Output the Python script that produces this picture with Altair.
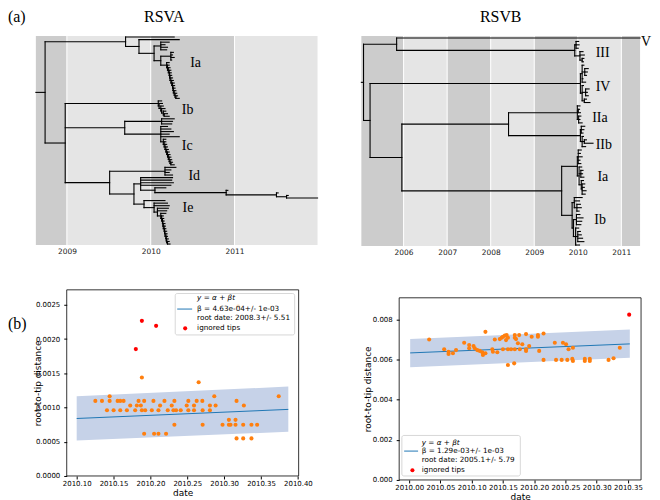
import altair as alt
import pandas as pd

# ------------------------------------------------------------------
# Phylogenetic trees: internal node = [date, child, child, ...]; tip = date
# ------------------------------------------------------------------
def chain(nodes, tips):
    sub = [nodes[-1], tips[-2], tips[-1]]
    for n, t in zip(reversed(nodes[:-1]), reversed(tips[:-2])):
        sub = [n, t, sub]
    return sub

# ---- RSVA ----
IA_LAD_NODES = [2010.20, 2010.21, 2010.22, 2010.225, 2010.23, 2010.24, 2010.25, 2010.26, 2010.265, 2010.27, 2010.28, 2010.29, 2010.30]
IA_LAD_TIPS = [2010.22, 2010.23, 2010.24, 2010.245, 2010.25, 2010.26, 2010.27, 2010.28, 2010.285, 2010.29, 2010.30, 2010.31, 2010.32, 2010.34]
A_IA = [2009.70, 2010.28,
        [2009.86, 2010.34,
         [2010.04,
          [2010.12, 2010.22, 2010.17, 2010.20, 2010.19],
          [2010.12,
           [2010.24, 2010.27, 2010.26, 2010.28, 2010.25],
           [2010.19, 2010.22, chain(IA_LAD_NODES, IA_LAD_TIPS)]]]]]
A_IB = [2010.09, 2010.13, chain([2010.10, 2010.12, 2010.13, 2010.15, 2010.16],
                                [2010.14, 2010.15, 2010.17, 2010.18, 2010.20, 2010.22])]
IC_LAD_NODES = [2010.16, 2010.17, 2010.18, 2010.19, 2010.20, 2010.21, 2010.22, 2010.23, 2010.24]
IC_LAD_TIPS = [2010.18, 2010.19, 2010.20, 2010.21, 2010.22, 2010.23, 2010.24, 2010.25, 2010.26, 2010.28]
A_IC = [2009.69,
        [2010.13, 2010.28, 2010.26, 2010.25],
        [2010.12, 2010.20, 2010.24, 2010.27, 2010.22, 2010.34,
         [2010.15, 2010.18, chain(IC_LAD_NODES, IC_LAD_TIPS)]]]
A_ID = [2010.17, 2010.30, 2010.24, 2010.22, 2010.26]
A_LONG = [2010.90, 2010.92, [2011.50, 2011.52, [2011.62, 2011.64, 2011.99]]]
A_MID = [2009.88, 2010.26, 2010.25, 2010.27, 2010.24, [2010.05, 2010.18, A_LONG]]
IE_LAD_NODES = [2010.13, 2010.14, 2010.145, 2010.15, 2010.16, 2010.165, 2010.17, 2010.18, 2010.185, 2010.19, 2010.20]
IE_LAD_TIPS = [2010.15, 2010.155, 2010.16, 2010.17, 2010.175, 2010.18, 2010.19, 2010.195, 2010.20, 2010.21, 2010.22, 2010.23]
A_IE = [2009.92, 2010.17,
        [2010.04, 2010.20, 2010.22,
         [2010.08, 2010.21, 2010.19,
          [2010.12, 2010.18, chain(IE_LAD_NODES, IE_LAD_TIPS)]]]]
TREE_A = [2008.74, A_IA, [2008.98, A_IB, A_IC, [2009.51, A_ID, [2009.80, A_MID, A_IE]]]]
A_ROOT_START, A_VIEW_START, A_END = 2008.63, 2008.5825, 2011.99
A_YEARS = [2009, 2010, 2011]
A_BAND_START = [2008.63, 2009, 2010, 2011]
A_BAND_END = [2009, 2010, 2011, 2011.99]
A_BAND_SHADE = ["dark", "light", "dark", "light"]
A_CLADES = ["Ia", "Ib", "Ic", "Id", "Ie"]
A_CLADE_X = [2010.47, 2010.37, 2010.37, 2010.45, 2010.38]
A_CLADE_Y = [10.2, 28.5, 42.7, 54.4, 67.1]

# ---- RSVB ----
B_III = [2009.93, [2009.96, 2010.02, 2010.03, 2010.01],
         [2010.05, 2010.12, 2010.15, [2010.10, 2010.14, 2010.13]]]
B_IV = [2010.06,
        [2010.10, 2010.14, [2010.16, 2010.24, 2010.22, 2010.20], 2010.12, 2010.18],
        [2010.10, 2010.13, [2010.18, 2010.26, 2010.22, 2010.24], [2010.15, 2010.20, 2010.28]]]
B_IIA = [2009.99, 2010.05, [2010.01, 2010.04, 2010.06], [2010.02, 2010.07, 2010.05, 2010.10]]
B_IIB = [2010.06, [2010.08, 2010.16, 2010.14, 2010.12],
         [2010.10, 2010.13, [2010.15, 2010.20, 2010.35], 2010.18]]
B_IA = [2009.99, [2010.01, 2010.08, 2010.06, 2010.10, 2010.05, 2010.07],
        [2010.03, 2010.09, [2010.07, 2010.12, 2010.11, 2010.14],
         [2010.08, 2010.13, [2010.10, 2010.16, 2010.15, 2010.19, 2010.17]]]]
B_IB = [2009.87, [2009.92, 2010.10, 2010.04, [2009.98, 2010.06, 2010.08, 2010.03]],
        [2009.90, [2009.97, 2010.05, 2010.12, 2010.09, 2010.07],
         [2009.95, 2010.02, [2010.00, 2010.06, 2010.08, 2010.11, 2010.14], 2010.04]]]
TREE_B = [2005.08, [2005.84, 2011.43, B_III],
          [2005.23, B_IV, [2005.96, [2008.41, B_IIA, B_IIB], [2009.63, B_IA, B_IB]]]]
B_ROOT_START, B_VIEW_START, B_END = 2005.03, 2005.03, 2011.43
B_YEARS = [2006, 2007, 2008, 2009, 2010, 2011]
B_BAND_START = [2005.03, 2006, 2007, 2008, 2009, 2010, 2011]
B_BAND_END = [2006, 2007, 2008, 2009, 2010, 2011, 2011.43]
B_BAND_SHADE = ["dark", "light", "dark", "light", "dark", "light", "dark"]
B_CLADES = ["V", "III", "IV", "IIa", "IIb", "Ia", "Ib"]
B_CLADE_X = [2011.453, 2010.41, 2010.41, 2010.33, 2010.41, 2010.45, 2010.38]
B_CLADE_Y = [1.1, 4.5, 14.4, 23.5, 31.4, 41.0, 53.7]

# ------------------------------------------------------------------
# Root-to-tip regressions
# ------------------------------------------------------------------
RA_T = [2010.1447, 2010.2866, 2010.3740,
        2010.1253, 2010.1343, 2010.1447, 2010.1555, 2010.1591, 2010.1636, 2010.1839, 2010.1915,
        2010.2041, 2010.2190, 2010.2325, 2010.2514, 2010.2627, 2010.2704, 2010.3168,
        2010.1726, 2010.1816, 2010.1870, 2010.2131, 2010.2289, 2010.2492, 2010.2591, 2010.2807,
        2010.2884, 2010.3267,
        2010.1411, 2010.1501, 2010.1591, 2010.1681, 2010.1793, 2010.1884, 2010.1929, 2010.2019,
        2010.2109, 2010.2235, 2010.2312, 2010.2348, 2010.2411, 2010.2514, 2010.2591, 2010.2708, 2010.2807,
        2010.3064, 2010.3154,
        2010.2325, 2010.2708, 2010.2978, 2010.3064, 2010.3086, 2010.3154, 2010.3258, 2010.3370, 2010.3447,
        2010.1915, 2010.2050, 2010.2109, 2010.2212,
        2010.3168, 2010.3258, 2010.3370,
        2010.1884, 2010.2654, 2010.3190]
RA_D = [0.001165] * 3 + [0.001097] * 15 + [0.00103] * 10 + [0.000961] * 17 + [0.00082] * 2 \
       + [0.000748] * 9 + [0.000616] * 4 + [0.000549] * 3 + [0.00144, 0.00137, 0.00248]
RA_IGN_T = [2010.1884, 2010.2077, 2010.1802]
RA_IGN_D = [0.002267, 0.002194, 0.001854]
RA_FIT_T = [2010.10, 2010.387]
RA_FIT = [0.00084, 0.000973]
RA_LO = [0.00052, 0.000646]
RA_HI = [0.001165, 0.001306]
RA_LEGEND = ["y = α + βt", "β = 4.63e-04+/- 1e-03", "root date: 2008.3+/- 5.51", "ignored tips"]

RB_T = [2010.032, 2010.056, 2010.063, 2010.063, 2010.070, 2010.075, 2010.088, 2010.096, 2010.096, 2010.103,
        2010.105, 2010.109, 2010.113, 2010.117, 2010.118, 2010.122, 2010.122, 2010.133, 2010.134, 2010.137,
        2010.141, 2010.145, 2010.148, 2010.150, 2010.150, 2010.153, 2010.155, 2010.156, 2010.158, 2010.158,
        2010.158, 2010.163, 2010.169, 2010.169, 2010.169, 2010.168, 2010.171, 2010.174, 2010.176, 2010.177,
        2010.181, 2010.187, 2010.187, 2010.187, 2010.192, 2010.196, 2010.206, 2010.206, 2010.208, 2010.215,
        2010.215, 2010.233, 2010.235, 2010.244, 2010.246, 2010.251, 2010.253, 2010.255, 2010.261, 2010.262,
        2010.262, 2010.281, 2010.281, 2010.289, 2010.289, 2010.319, 2010.327, 2010.337]
RB_D = [0.00701, 0.00652, 0.00640, 0.00629, 0.00632, 0.00648, 0.00685, 0.00673, 0.00657, 0.00668,
        0.00657, 0.00648, 0.00644, 0.00637, 0.00624, 0.00632, 0.00739, 0.00652, 0.00640, 0.00701,
        0.00637, 0.00703, 0.00710, 0.00715, 0.00652, 0.00720, 0.00698, 0.00723, 0.00710, 0.00652,
        0.00574, 0.00652, 0.00723, 0.00710, 0.00652, 0.00582, 0.00703, 0.00682, 0.00723, 0.00652,
        0.00677, 0.00728, 0.00652, 0.00644, 0.00668, 0.00715, 0.00723, 0.00715, 0.00644, 0.00731,
        0.00599, 0.00685, 0.00599, 0.00599, 0.00685, 0.00677, 0.00599, 0.00652, 0.00604, 0.00594,
        0.00660, 0.00604, 0.00594, 0.00604, 0.00594, 0.00599, 0.00607, 0.00660]
RB_IGN_T = [2010.352]
RB_IGN_D = [0.00825]
RB_FIT_T = [2010.0016, 2010.353]
RB_FIT = [0.00634, 0.00679]
RB_LO = [0.00562, 0.00610]
RB_HI = [0.00703, 0.00751]
RB_LEGEND = ["y = α + βt", "β = 1.29e-03+/- 1e-03", "root date: 2005.1+/- 5.79", "ignored tips"]

# ------------------------------------------------------------------
SERIF = "Liberation Serif"
SANS = "DejaVu Sans"
DARK, LIGHT = "#cccccc", "#e5e5e5"
BAND = "#c6d2e8"
ONE = pd.DataFrame({"k": [0]})


def tree_segments(tree, start):
    rows, count = [], [0]

    def walk(node, pdate):
        if not isinstance(node, list):
            y = count[0]
            count[0] += 1
            rows.append((pdate, node, y, y))
            return y
        ys = [walk(c, node[0]) for c in node[1:]]
        y = (ys[0] + ys[-1]) / 2
        rows.append((node[0], node[0], ys[0], ys[-1]))
        rows.append((pdate, node[0], y, y))
        return y

    walk(tree, start)
    return pd.DataFrame(rows, columns=["x", "x2", "y", "y2"]), count[0]


def text_at(txt, x, y, size, font, align="left", baseline="top", style="normal", opacity=1):
    return alt.Chart(ONE).mark_text(align=align, baseline=baseline, font=font, fontSize=size,
                                    color="black", fontStyle=style, opacity=opacity).encode(
        x=alt.value(x), y=alt.value(y), text=alt.value(txt))


def tree_panel(tree, root_start, view_start, end, years, bs, be, shade, clades, cx, cy,
               title, title_x, w, h, ypad, tag=None):
    segs, n = tree_segments(tree, root_start)
    xs = alt.Scale(domain=[view_start, end], nice=False, zero=False)
    ys = alt.Scale(domain=[-ypad[0], n - 1 + ypad[1]], reverse=True, nice=False, zero=False)
    xax = alt.Axis(values=years, format="d", ticks=False, domain=False, grid=False, title=None,
                   labelFont=SANS, labelFontSize=7.5, labelPadding=2, labelColor="#222",
                   labelFlush=False, labelOverlap=False)
    bands = alt.Chart(pd.DataFrame({"x0": bs, "x1": be, "shade": shade})).mark_rect().encode(
        x=alt.X("x0:Q", scale=xs, axis=xax), x2="x1:Q",
        color=alt.Color("shade:N", scale=alt.Scale(domain=["dark", "light"], range=[DARK, LIGHT]),
                        legend=None))
    grid = alt.Chart(pd.DataFrame({"yr": years})).mark_rule(color="white", strokeWidth=1).encode(
        x=alt.X("yr:Q", scale=xs, axis=xax))
    branches = alt.Chart(segs).mark_rule(color="black", strokeWidth=1.1, strokeCap="square").encode(
        x=alt.X("x:Q", scale=xs, axis=xax), x2="x2:Q",
        y=alt.Y("y:Q", scale=ys, axis=None), y2="y2:Q")
    labels = alt.Chart(pd.DataFrame({"c": clades, "cx": cx, "cy": cy})).mark_text(
        align="left", baseline="middle", font=SERIF, fontSize=14, color="black").encode(
        x=alt.X("cx:Q", scale=xs, axis=xax), y=alt.Y("cy:Q", scale=ys, axis=None), text="c:N")
    layers = [bands, grid, branches, labels,
              text_at(title, title_x, -27, 16, SERIF, align="center")]
    if tag:
        layers.append(text_at(tag[0], tag[1], tag[2], 16, SERIF))
    return alt.layer(*layers).properties(width=w, height=h)


def scatter_panel(tt, td, it, idd, ft, fy, lo, hi, xdom, ydom, xticks, yticks, yfmt, w, h, top,
                  ytitle_x, lines, box, text_x, text_y, sym_x, dot_x):
    H = h + top
    xs = alt.Scale(domain=xdom, nice=False, zero=False)
    ys = alt.Scale(domain=[ydom[0], ydom[0] + (ydom[1] - ydom[0]) * H / h], nice=False, zero=False)
    common = dict(labelFont=SANS, labelFontSize=7, labelColor="black", tickColor="black",
                  tickSize=3, domain=False, grid=False, titleFont=SANS,
                  titleFontSize=9, titleFontWeight="normal", titleColor="black",
                  labelOverlap=False, labelFlush=False)
    xax = alt.Axis(values=xticks, format=".2f", title="date", titlePadding=2, labelPadding=1,
                   **common)
    yax = alt.Axis(values=yticks, format=yfmt, title="root-to-tip distance", labelPadding=4,
                   titleX=ytitle_x, titleY=top + h / 2, titleAngle=270, titleAlign="center",
                   titleBaseline="middle", **common)
    X = alt.X("t:Q", scale=xs, axis=xax)
    fit = pd.DataFrame({"t": ft, "d": fy, "lo": lo, "hi": hi})
    band = alt.Chart(fit).mark_area(color=BAND, opacity=1).encode(
        x=X, y=alt.Y("lo:Q", scale=ys, axis=yax), y2="hi:Q")
    line = alt.Chart(fit).mark_line(color="#1f77b4", strokeWidth=1).encode(
        x=X, y=alt.Y("d:Q", scale=ys, axis=yax))
    pts = alt.Chart(pd.DataFrame({"t": tt, "d": td})).mark_circle(
        size=17, color="#ff7f0e", opacity=1).encode(x=X, y=alt.Y("d:Q", scale=ys, axis=yax))
    ign = alt.Chart(pd.DataFrame({"t": it, "d": idd})).mark_circle(
        size=17, color="#ff0000", opacity=1).encode(x=X, y=alt.Y("d:Q", scale=ys, axis=yax))
    frame = alt.Chart(ONE).mark_rect(fillOpacity=0, stroke="black", strokeWidth=0.8).encode(
        x=alt.value(0), x2=alt.value(w), y=alt.value(top), y2=alt.value(H))
    layers = [band, line, pts, ign, frame]
    layers.append(alt.Chart(ONE).mark_rect(fill="white", fillOpacity=0.8, stroke="#cccccc",
                                           strokeWidth=0.8, cornerRadius=2).encode(
        x=alt.value(box[0]), x2=alt.value(box[1]), y=alt.value(box[2] + top),
        y2=alt.value(box[3] + top)))
    for i, (txt, ty) in enumerate(zip(lines, text_y)):
        layers.append(text_at(txt, text_x, ty + top, 7.3, SANS, baseline="middle",
                              style="italic" if i == 0 else "normal"))
    layers.append(alt.Chart(ONE).mark_rule(color="#1f77b4", strokeWidth=1).encode(
        x=alt.value(sym_x[0]), x2=alt.value(sym_x[1]), y=alt.value(text_y[1] + top)))
    layers.append(alt.Chart(ONE).mark_circle(size=17, color="#ff0000", opacity=1).encode(
        x=alt.value(dot_x), y=alt.value(text_y[3] + top)))
    return alt.layer(*layers).properties(width=w, height=H)


tree_a = tree_panel(TREE_A, A_ROOT_START, A_VIEW_START, A_END, A_YEARS, A_BAND_START, A_BAND_END,
                    A_BAND_SHADE, A_CLADES, A_CLADE_X, A_CLADE_Y, "RSVA", 133, 287, 210, (0.4, 0.4),
                    tag=("(a)", -24, -27))
tree_b = tree_panel(TREE_B, B_ROOT_START, B_VIEW_START, B_END, B_YEARS, B_BAND_START, B_BAND_END,
                    B_BAND_SHADE, B_CLADES, B_CLADE_X, B_CLADE_Y, "RSVB", 140, 280, 211, (0.6, 0.3))

tag_b = text_at("(b)", -24, 34, 16, SERIF, baseline="middle").properties(width=1, height=187)

scat_a = scatter_panel(RA_T, RA_D, RA_IGN_T, RA_IGN_D, RA_FIT_T, RA_FIT, RA_LO, RA_HI,
                       [2010.0865, 2010.401], [0, 0.00272],
                       [2010.10, 2010.15, 2010.20, 2010.25, 2010.30, 2010.35, 2010.40],
                       [0, 0.0005, 0.0010, 0.0015, 0.0020, 0.0025], ".4f", 233, 187, 0, -29,
                       RA_LEGEND, (109, 229, 3.7, 45.3), 131, [8.7, 19.3, 28.7, 38.7], (111, 126), 119)
scat_b = scatter_panel(RB_T, RB_D, RB_IGN_T, RB_IGN_D, RB_FIT_T, RB_FIT, RB_LO, RB_HI,
                       [2009.984, 2010.371], [0, 0.00909],
                       [2010.00, 2010.05, 2010.10, 2010.15, 2010.20, 2010.25, 2010.30, 2010.35],
                       [0, 0.002, 0.004, 0.006, 0.008], ".3f", 243, 183, 8, -32,
                       RB_LEGEND, (2.7, 121.7, 138.3, 179), 22.7, [145.5, 154, 163, 173.3], (5, 19), 13.3)

row1 = alt.hconcat(tree_a, tree_b, spacing=42)
row2 = alt.hconcat(alt.hconcat(tag_b, scat_a, spacing=1), scat_b, spacing=51)
chart = alt.vconcat(row1, row2, spacing=33).properties(
    padding={"left": 0, "top": 0, "right": 0, "bottom": 0}, background="white"
).configure_view(stroke=None)

chart.save("out.html", embed_options={"renderer": "svg", "actions": False})
